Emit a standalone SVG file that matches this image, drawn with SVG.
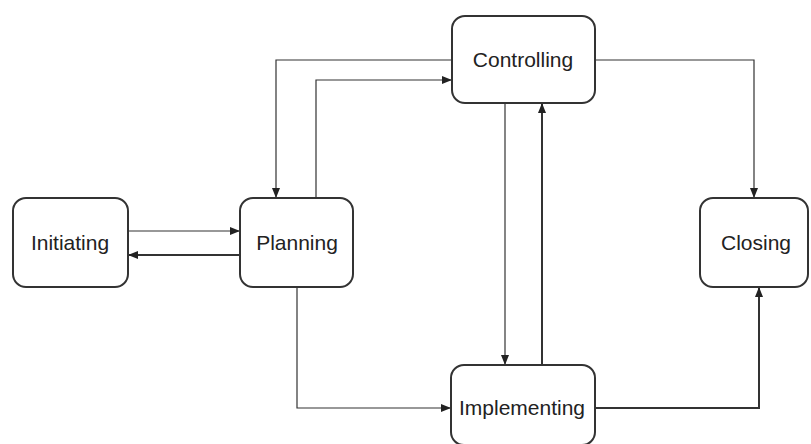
<svg xmlns="http://www.w3.org/2000/svg" width="811" height="444" viewBox="0 0 811 444">
<defs>
<marker id="ah" viewBox="0 0 10 8" refX="10" refY="4" markerWidth="10" markerHeight="8" markerUnits="userSpaceOnUse" orient="auto">
<path d="M0,0 L10,4 L0,8 Z" fill="#222"/>
</marker>
</defs>
<style>
.box{fill:#fff;stroke:#333;stroke-width:2}
.lbl{font-family:"Liberation Sans",Arial,sans-serif;font-size:21px;fill:#222;text-anchor:middle}
.c{fill:none;stroke:#333;stroke-width:1.2;marker-end:url(#ah)}
.t{stroke-width:2}
</style>
<rect width="811" height="444" fill="#fff"/>
<g id="connectors">
<path class="c" d="M128,231 H240"/>
<path class="c t" d="M240,255 H128"/>
<path class="c" d="M452,60 H276 V198"/>
<path class="c" d="M316,198 V80 H452"/>
<path class="c" d="M595,60 H754 V198"/>
<path class="c" d="M505,103 V365"/>
<path class="c t" d="M542,365 V103"/>
<path class="c" d="M297,287 V408 H451"/>
<path class="c t" d="M595,408 H759 V287"/>
</g>
<g id="initiating"><rect class="box" x="13" y="198" width="115" height="89" rx="13"/><text class="lbl" x="70" y="250">Initiating</text></g>
<g id="planning"><rect class="box" x="240" y="198" width="113" height="89" rx="13"/><text class="lbl" x="297" y="250">Planning</text></g>
<g id="controlling"><rect class="box" x="452" y="16" width="143" height="87" rx="13"/><text class="lbl" x="523" y="67">Controlling</text></g>
<g id="implementing"><rect class="box" x="451" y="365" width="144" height="80" rx="13"/><text class="lbl" x="522" y="415">Implementing</text></g>
<g id="closing"><rect class="box" x="700" y="198" width="108" height="89" rx="13"/><text class="lbl" x="756" y="250">Closing</text></g>
</svg>
